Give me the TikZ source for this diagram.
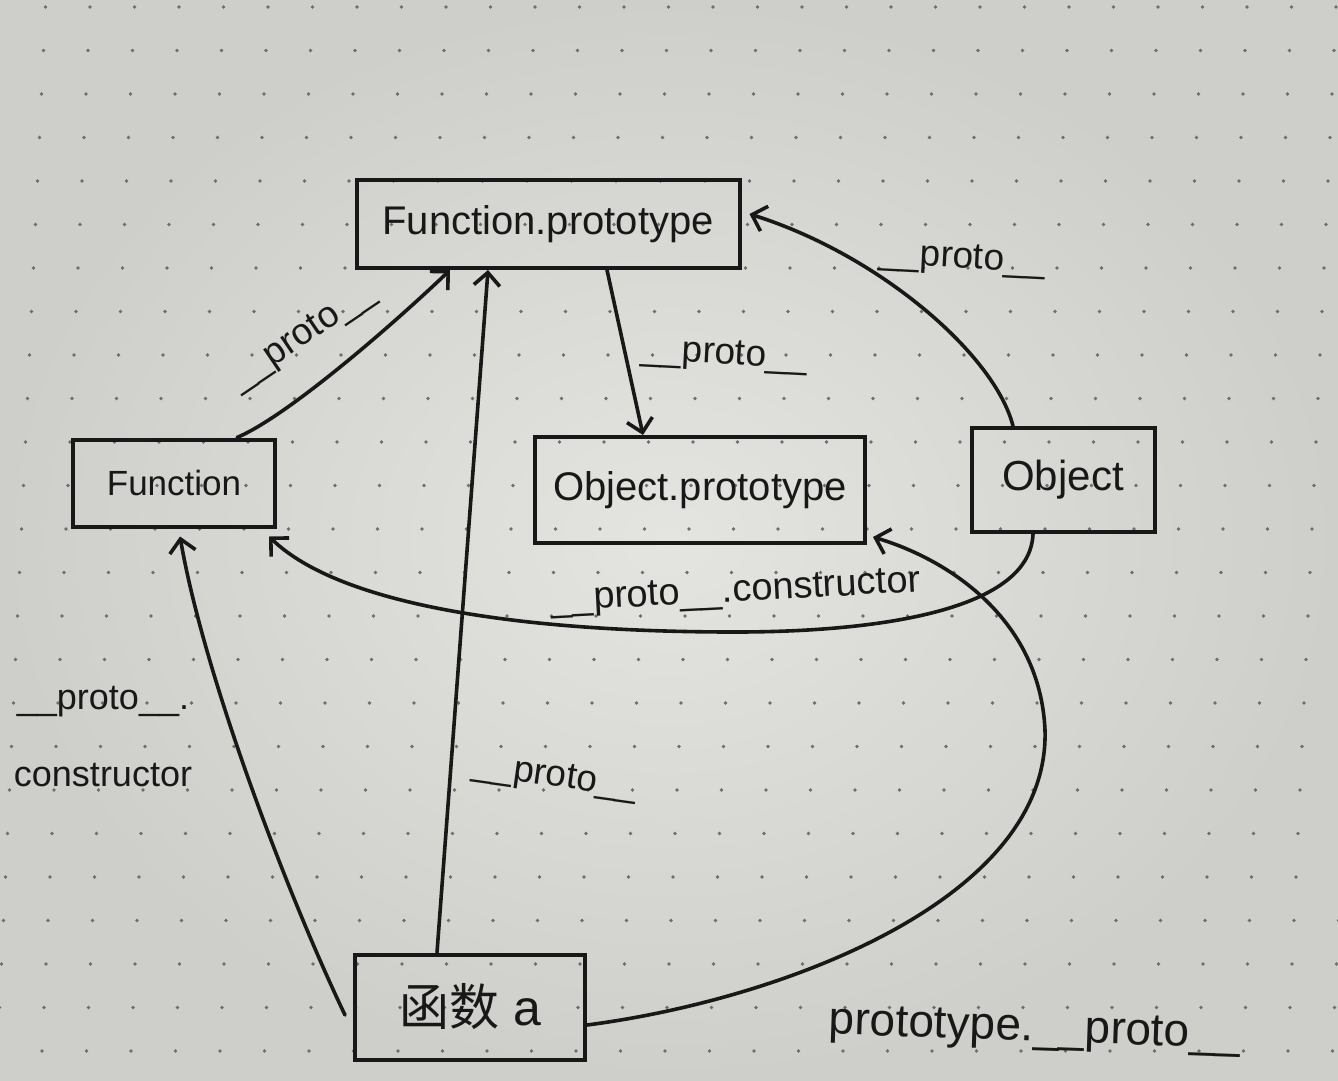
\documentclass[tikz,border=0pt]{standalone}
\usepackage{fontspec}
\setmainfont{Liberation Sans}
\newfontfamily\cjk{Noto Sans CJK SC}
\usetikzlibrary{arrows.meta,calc}
\definecolor{paper}{RGB}{206,206,202}
\definecolor{paperlight}{RGB}{228,228,224}
\definecolor{ink}{RGB}{24,24,24}
\definecolor{dotc}{RGB}{110,110,108}
\begin{document}
\begin{tikzpicture}[x=1pt,y=-1pt,
  box/.style={draw=ink,line width=4pt,inner sep=0pt,text=ink},
  conn/.style={draw=ink,line width=3.6pt,line cap=round,-{Straight Barb[length=13pt,width=26pt]}},
  lbl/.style={text=ink,inner sep=0pt,font=\fontsize{37}{44}\selectfont}]
\useasboundingbox (0,0) rectangle (1338,1080);
\shade[inner color=paperlight,outer color=paper] (0,0) rectangle (1338,1080);
\foreach \i in {-1,...,30}{
  \foreach \j in {0,...,25}{
    \fill[dotc] ({90+44.5*\i-2*\j},{7+43.5*\j}) circle (1.8pt);
  }
}
% boxes
\node[box,minimum width=383pt,minimum height=88pt,font=\fontsize{40}{48}\selectfont] (FP) at (548,224) {Function.prototype};
\node[box,minimum width=202pt,minimum height=87pt,font=\fontsize{35}{42}\selectfont] (F) at (174,483) {Function};
\node[box,minimum width=330pt,minimum height=106pt,font=\fontsize{40}{48}\selectfont] (OP) at (700,490) {Object.prototype};
\node[box,minimum width=183pt,minimum height=104pt,font=\fontsize{42}{50}\selectfont] (O) at (1063,480) {Object};
\node[box,minimum width=230pt,minimum height=105pt,font=\fontsize{50}{60}\selectfont] (A) at (470,1007) {{\cjk 函数} a};
% connectors
\draw[conn] ([xshift=63pt]F.north) .. controls (290,415) and (400,318) .. ([xshift=-98pt]FP.south);
\draw[conn] ([xshift=-33pt]A.north) -- ([xshift=-60pt]FP.south);
\draw[conn] ([xshift=59pt]FP.south) -- ([xshift=-57pt]OP.north);
\draw[conn] ([xshift=-50pt]O.north) .. controls (995,355) and (880,255) .. ([xshift=8pt,yshift=10pt]FP.east);
\draw[conn] ([xshift=-30pt]O.south) .. controls (1030,610) and (880,632) .. (735,632) .. controls (520,632) and (340,605) .. ([xshift=-8pt,yshift=-8pt]F.south east);
\draw[conn] ([xshift=-8pt,yshift=-8pt]A.west) .. controls (290,900) and (205,680) .. ([xshift=6pt,yshift=-8pt]F.south);
\draw[conn] ([yshift=-18pt]A.east) .. controls (780,1000) and (1050,900) .. (1045,730) .. controls (1040,620) and (950,560) .. ([xshift=6pt,yshift=8pt]OP.south east);
% labels
\node[lbl,rotate=34] (L1) at (303,337) {\_\_proto\_\_};
\node[lbl,rotate=-8] (L2) at (555,778) {\_\_proto\_\_};
\node[lbl,rotate=-3] (L3) at (724,356) {\_\_proto\_\_};
\node[lbl,rotate=-3] (L4) at (962,260) {\_\_proto\_\_};
\node[lbl,rotate=3,font=\fontsize{38}{44}\selectfont] (L5) at (736,593) {\_\_proto\_\_.constructor};
\node[lbl,align=center,font=\fontsize{36}{77}\selectfont] (L6) at (103,737) {\_\_proto\_\_.\\constructor};
\node[lbl,rotate=-2,font=\fontsize{46}{54}\selectfont] (L7) at (1035,1031) {prototype.\_\_proto\_\_};
\end{tikzpicture}
\end{document}
